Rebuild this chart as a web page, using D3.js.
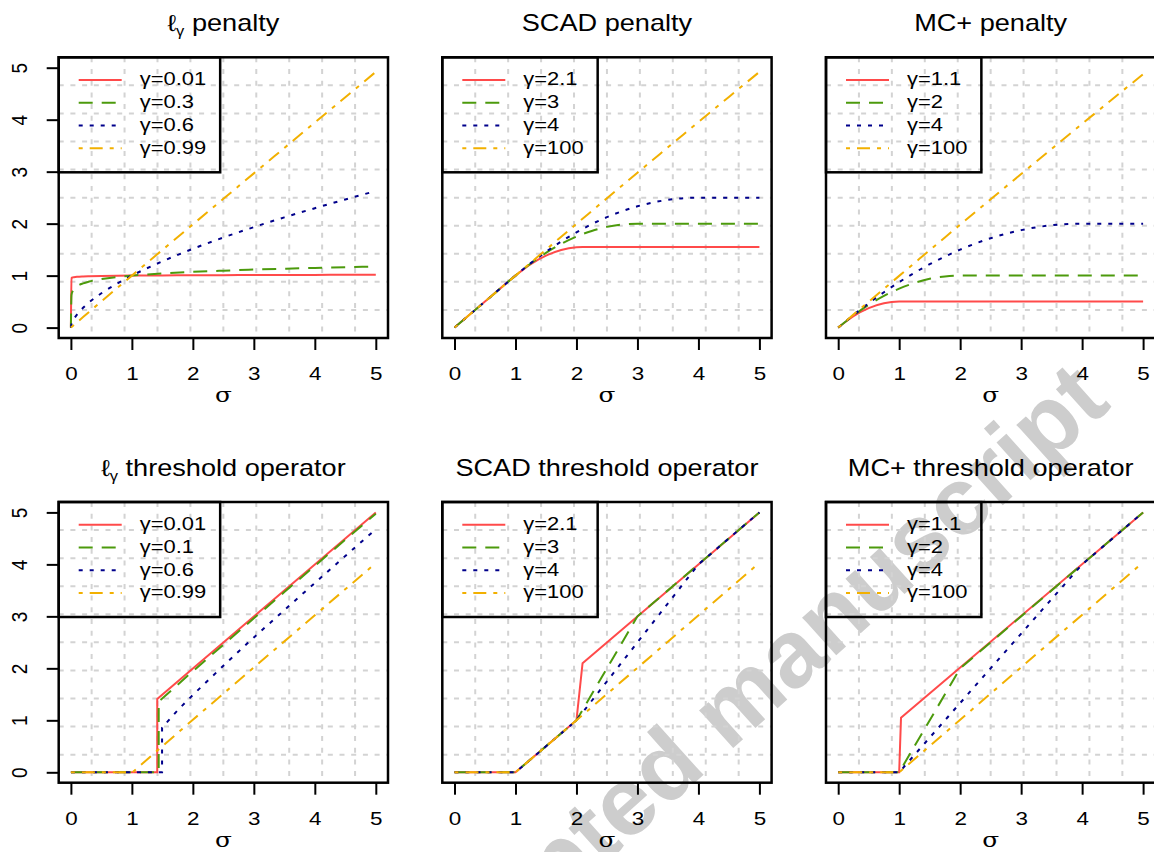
<!DOCTYPE html>
<html><head><meta charset="utf-8">
<script src="https://cdn.jsdelivr.net/npm/d3@7/dist/d3.min.js"></script>
<style>body{margin:0;background:#fff}svg{display:block}</style>
</head><body><svg id="c" width="1154" height="852"></svg>
<script>
// ---------- data ----------
const xTicks = [0,1,2,3,4,5];
const yTicks = [0,1,2,3,4,5];
const panelTitles = ["ℓγ penalty","SCAD penalty","MC+ penalty","ℓγ threshold operator","SCAD threshold operator","MC+ threshold operator"];
const legendLgPen = ["γ=0.01","γ=0.3","γ=0.6","γ=0.99"];
const legendLgThr = ["γ=0.01","γ=0.1","γ=0.6","γ=0.99"];
const legendScad = ["γ=2.1","γ=3","γ=4","γ=100"];
const legendMcp = ["γ=1.1","γ=2","γ=4","γ=100"];
const xLabel = "σ";

// ℓγ penalty
const sigmaLgPen = [0,0.01,0.03,0.05,0.1,0.2,0.3,0.5,0.75,1,1.5,2,2.5,3,3.5,4,4.5,5];
const lgPenA = [0,0.955,0.966,0.970,0.977,0.984,0.988,0.993,0.997,1,1.004,1.007,1.009,1.011,1.013,1.014,1.015,1.016];
const lgPenB = [0,0.631,0.704,0.741,0.794,0.851,0.887,0.933,0.972,1,1.041,1.072,1.096,1.116,1.133,1.149,1.162,1.175];
const lgPenC = [0,0.063,0.122,0.166,0.251,0.381,0.486,0.660,0.841,1,1.275,1.516,1.733,1.933,2.121,2.297,2.466,2.627];
const lgPenD = [0,0.0105,0.0311,0.0515,0.1023,0.2032,0.3036,0.5035,0.7522,1,1.494,1.986,2.477,2.967,3.456,3.945,4.432,4.920];

// SCAD penalty
const sigmaScadPen = [0,0.5,1,1.25,1.5,1.75,2,2.1,2.25,2.5,2.75,3,3.25,3.5,3.75,4,4.5,5];
const scadPenA = [0,0.5,1,1.222,1.386,1.494,1.545,1.55,1.55,1.55,1.55,1.55,1.55,1.55,1.55,1.55,1.55,1.55];
const scadPenB = [0,0.5,1,1.234,1.438,1.609,1.75,1.798,1.859,1.938,1.984,2,2,2,2,2,2,2];
const scadPenC = [0,0.5,1,1.240,1.458,1.656,1.833,1.898,1.990,2.125,2.240,2.333,2.406,2.458,2.490,2.5,2.5,2.5];
const scadPenD = [0,0.5,1,1.250,1.499,1.747,1.995,2.094,2.242,2.489,2.735,2.980,3.224,3.468,3.712,3.955,4.438,4.919];

// MC+ penalty
const sigmaMcpPen = [0,0.25,0.5,0.75,1,1.25,1.5,1.75,2,2.5,3,3.5,4,4.5,5];
const mcpPenA = [0,0.219,0.375,0.469,0.5,0.5,0.5,0.5,0.5,0.5,0.5,0.5,0.5,0.5,0.5];
const mcpPenB = [0,0.234,0.438,0.609,0.75,0.859,0.938,0.984,1,1,1,1,1,1,1];
const mcpPenC = [0,0.242,0.469,0.680,0.875,1.055,1.219,1.367,1.5,1.719,1.875,1.969,2,2,2];
const mcpPenD = [0,0.250,0.499,0.747,0.995,1.242,1.489,1.735,1.98,2.469,2.955,3.439,3.92,4.399,4.875];

// ℓγ threshold operator [σ, value]
const lgThrA = [[0,0],[1.416,0],[1.416,1.409],[2,1.995],[3,2.997],[4,3.998],[5,4.998]];
const lgThrB = [[0,0],[1.44,0],[1.44,1.362],[2,1.945],[2.5,2.455],[3,2.962],[3.5,3.467],[4,3.971],[4.5,4.474],[5,4.976]];
const lgThrC = [[0,0],[1.495,0],[1.495,0.86],[1.75,1.192],[2,1.488],[2.5,2.05],[3,2.595],[3.5,3.12],[4,3.642],[4.5,4.161],[5,4.676]];
const lgThrD = [[0,0],[1.01,0],[1.5,0.503],[2,1.01],[3,2.017],[4,3.021],[5,4.024]];

// SCAD threshold operator
const scadThrA = [[0,0],[1,0],[2,1],[2.1,2.1],[5,5]];
const scadThrB = [[0,0],[1,0],[2,1],[3,3],[5,5]];
const scadThrC = [[0,0],[1,0],[2,1],[4,4],[5,5]];
const scadThrD = [[0,0],[1,0],[2,1],[5,4.031]];

// MC+ threshold operator
const mcpThrA = [[0,0],[1,0],[1.03,1.05],[5,5]];
const mcpThrB = [[0,0],[1,0],[2,2],[5,5]];
const mcpThrC = [[0,0],[1,0],[4,4],[5,5]];
const mcpThrD = [[0,0],[1,0],[5,4.04]];

const watermark = "Accepted manuscript";

// ---------- styles / layout ----------
const zip = (xs, ys) => xs.map((v,i) => [v, ys[i]]);
const colors = ["#ff4a4a","#4c9a0c","#00008b","#f2b000"];
const dashes = [null,"14,9","4,7","4,7,13,7"];
const SX = 1.18;
const FONT = "'Liberation Sans', Arial, Helvetica, sans-serif";
const colLeft = [58.7, 442.3, 826];
const rowTop = [57.3, 502];
const boxW = 329.3, boxH = 280.7;
const dom = [-0.2, 5.2];

const panels = [
  {title: panelTitles[0], legend: legendLgPen, smooth: true,
   series: [zip(sigmaLgPen,lgPenA), zip(sigmaLgPen,lgPenB), zip(sigmaLgPen,lgPenC), zip(sigmaLgPen,lgPenD)]},
  {title: panelTitles[1], legend: legendScad, smooth: true,
   series: [zip(sigmaScadPen,scadPenA), zip(sigmaScadPen,scadPenB), zip(sigmaScadPen,scadPenC), zip(sigmaScadPen,scadPenD)]},
  {title: panelTitles[2], legend: legendMcp, smooth: true,
   series: [zip(sigmaMcpPen,mcpPenA), zip(sigmaMcpPen,mcpPenB), zip(sigmaMcpPen,mcpPenC), zip(sigmaMcpPen,mcpPenD)]},
  {title: panelTitles[3], legend: legendLgThr, smooth: false, series: [lgThrA, lgThrB, lgThrC, lgThrD]},
  {title: panelTitles[4], legend: legendScad, smooth: false, series: [scadThrA, scadThrB, scadThrC, scadThrD]},
  {title: panelTitles[5], legend: legendMcp, smooth: false, series: [mcpThrA, mcpThrB, mcpThrC, mcpThrD]}
];

const svg = d3.select("#c").style("font-family", FONT);
svg.append("rect").attr("width",1154).attr("height",852).attr("fill","#fff");

// watermark (behind the chart)
svg.append("text").attr("transform", "translate(750,733) rotate(-42)")
  .attr("text-anchor", "middle").attr("font-size", 96).attr("font-weight", "bold")
  .attr("fill", "#cdcdcd").text(watermark);

panels.forEach((p, i) => {
  const L = colLeft[i % 3], T = rowTop[Math.floor(i / 3)];
  const x = d3.scaleLinear().domain(dom).range([L, L + boxW]);
  const y = d3.scaleLinear().domain(dom).range([T + boxH, T]);
  const g = svg.append("g");

  // grid (10 equal divisions of plot region)
  const gv = d3.range(1, 10).map(k => dom[0] + (dom[1] - dom[0]) * k / 10);
  const grid = g.append("g").attr("stroke", "#d3d3d3").attr("stroke-width", 2).attr("stroke-dasharray", "5,6.7");
  gv.forEach(v => {
    grid.append("line").attr("x1", x(v)).attr("x2", x(v)).attr("y1", T).attr("y2", T + boxH);
    grid.append("line").attr("y1", y(v)).attr("y2", y(v)).attr("x1", L).attr("x2", L + boxW);
  });

  // series
  const line = d3.line().x(d => x(d[0])).y(d => y(d[1]))
    .curve(p.smooth ? d3.curveMonotoneX : d3.curveLinear);
  p.series.forEach((s, k) => {
    g.append("path").attr("d", line(s)).attr("fill", "none")
      .attr("stroke", colors[k]).attr("stroke-width", 2)
      .attr("stroke-dasharray", dashes[k]);
  });

  // box
  g.append("rect").attr("x", L).attr("y", T).attr("width", boxW).attr("height", boxH)
    .attr("fill", "none").attr("stroke", "#000").attr("stroke-width", 2.5);

  // x axis
  const ax = g.append("g").attr("transform", `translate(0,${T + boxH})`)
    .call(d3.axisBottom(x).tickValues(xTicks).tickSize(12).tickPadding(16.5).tickFormat(d3.format("d")));
  ax.select(".domain").remove();
  ax.selectAll(".tick line").attr("stroke", "#000").attr("stroke-width", 2);
  ax.selectAll(".tick text").attr("font-size", 19).attr("font-family", FONT).attr("fill", "#000")
    .attr("transform", `scale(${SX},1)`);

  // y axis (left column only)
  if (i % 3 === 0) {
    const ay = g.append("g").attr("transform", `translate(${L},0)`)
      .call(d3.axisLeft(y).tickValues(yTicks).tickSize(12).tickFormat(d3.format("d")));
    ay.select(".domain").remove();
    ay.selectAll(".tick line").attr("stroke", "#000").attr("stroke-width", 2);
    ay.selectAll(".tick text").attr("x", null).attr("dy", null).attr("font-size", 19)
      .attr("font-family", FONT).attr("fill", "#000").attr("text-anchor", "middle")
      .attr("transform", `translate(-31.7,0) scale(${SX},1) rotate(-90)`);
  }

  // x label
  g.append("text").attr("transform", `translate(${L + boxW / 2},${T + boxH + 64}) scale(${SX},1)`)
    .attr("text-anchor", "middle").attr("font-family", "'DejaVu Serif', 'Liberation Serif', serif")
    .attr("font-size", 21).text(xLabel);

  // title
  const tt = g.append("text").attr("transform", `translate(${L + boxW / 2},${T - 26.5}) scale(${SX},1)`)
    .attr("text-anchor", "middle").attr("font-size", 23);
  if (p.title.startsWith("ℓγ")) {
    tt.append("tspan").text("ℓ");
    tt.append("tspan").attr("font-size", 14).attr("dy", 5).text("γ");
    tt.append("tspan").attr("dy", -5).text(p.title.slice(2));
  } else {
    tt.text(p.title);
  }

  // legend
  const lg = g.append("g");
  const rowOff = [22.7, 45.5, 68.3, 91];
  let maxW = 0;
  p.legend.forEach((lab, k) => {
    const ry = T + rowOff[k];
    lg.append("line").attr("x1", L + 20).attr("x2", L + 63).attr("y1", ry).attr("y2", ry)
      .attr("stroke", colors[k]).attr("stroke-width", 2).attr("stroke-dasharray", dashes[k]);
    const t = lg.append("text").attr("transform", `translate(${L + 81},${ry + 5.3}) scale(${SX},1)`)
      .attr("font-size", 18.6).text(lab);
    maxW = Math.max(maxW, t.node().getComputedTextLength() * SX);
  });
  lg.insert("rect", ":first-child").attr("x", L).attr("y", T).attr("width", 81 + maxW + 14).attr("height", 115)
    .attr("fill", "none").attr("stroke", "#000").attr("stroke-width", 2.5);
});
</script></body></html>
